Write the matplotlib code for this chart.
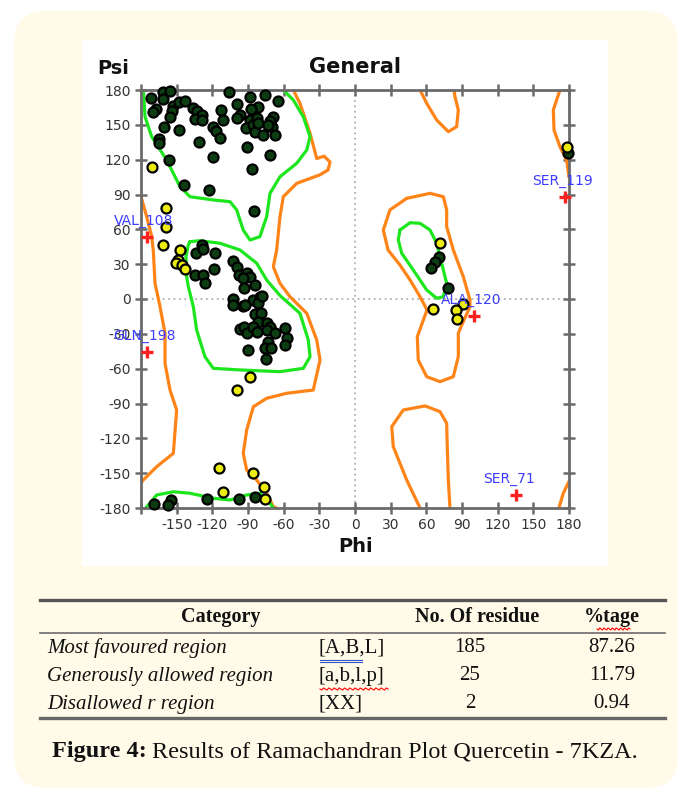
import matplotlib
matplotlib.use("Agg")
import matplotlib.pyplot as plt
from matplotlib.patches import FancyBboxPatch, Rectangle
import numpy as np

# ---------------- data ----------------
green_phi = [-171.9,-161.8,-161.8,-155.6,-167.4,-170.2,-153.4,-154.2,-147.7,-143.0,-155.6,-136.0,-133.2,-129.0,
             -134.6,-129.0,-112.7,-99.5,-96.7,-99.5,-105.7,-88.3,-75.7,-81.3,-87.5,-64.5,-88.3,-82.7,-91.7,-85.5,
             -84.1,-77.1,-81.3,-68.7,-71.5,-70.1,-72.9,-67.3,-160.7,-147.7,-165.1,-165.1,-119.2,-116.9,-113.5,
             -110.7,-130.9,-91.1,-156.2,-119.2,-71.5,-86.9,-143.5,-122.5,-84.9,
             -129.0,-133.7,-127.6,-117.7,-134.6,-128.1,-126.2,-118.6,-102.9,-99.5,-97.3,-91.1,-88.3,-93.9,-84.1,
             -93.3,-102.3,-93.9,-85.5,-79.9,-102.9,-92.5,-81.3,-78.5,-84.1,-79.3,-81.3,-96.7,-93.3,-90.5,-85.5,
             -82.7,-74.3,-71.5,-74.3,-67.3,-72.9,-75.7,-70.9,-58.9,-57.5,-58.9,-89.7,-74.8,
             -84.1,-97.3,-124.8,-155.0,-169.1,-157.0,
             70.9,67.3,63.6,78.5,179.5]
green_psi = [172.8,178.0,172.3,179.0,163.6,160.8,166.5,161.9,169.4,170.5,157.0,164.8,161.9,158.5,
             155.0,154.2,162.8,167.7,158.5,155.6,178.0,174.3,175.7,165.7,163.6,170.5,154.2,155.6,147.0,149.9,
             144.1,141.2,151.3,157.0,153.3,148.4,149.9,141.2,148.4,145.5,137.8,134.0,148.4,144.7,139.0,
             154.2,134.9,131.2,119.7,122.6,124.0,111.7,98.2,93.9,76.1,
             46.5,39.3,42.8,39.9,20.7,20.7,13.5,25.6,33.0,27.9,20.7,22.7,18.7,17.8,12.1,
             9.2,-0.3,-6.0,-0.9,1.4,-5.2,-5.2,-3.1,2.6,-12.9,-11.8,-19.5,-26.1,-23.8,-29.6,-24.4,
             -28.1,-20.9,-23.8,-26.7,-29.6,-36.7,-42.5,-42.5,-25.3,-33.9,-39.6,-43.9,-52.0,
             -170.2,-172.5,-172.5,-173.1,-176.5,-177.4,
             35.9,32.2,26.4,9.2,126.0]

yellow_phi = [-170.7,-159.0,-159.0,-161.2,-147.2,-148.6,-150.6,-145.8,-143.0,-88.3,-99.5,-114.1,-86.1,
              -110.7,-76.5,-75.7,71.5,65.9,91.1,84.9,85.5,178.5]
yellow_psi = [114.0,78.1,61.7,46.5,42.2,33.6,30.7,29.3,25.6,-67.5,-78.4,-145.8,-150.1,
              -165.9,-162.2,-172.5,48.0,-8.9,-4.3,-9.5,-17.5,131.0]

outlier_names = ["VAL_108", "GLN_198", "ALA_120", "SER_119", "SER_71"]
outlier_phi = [-175.2, -175.2, 100.1, 176.6, 135.4]
outlier_psi = [53.7, -45.3, -14.6, 88.1, -168.8]

# contour outlines (phi, psi vertices)
green_contours = [
    ([-178,-176.6,-171,-158.4,-147.2,-138.8,-119.2,-105.1,-99.5,-94,-88.3,-80,-74.3,-71.5,-63.1,-49,-40.6,-37.8,-43.5,-51.9,-60.3],
     [180,157,139.8,119.7,96.7,88.1,85.3,83.8,76.7,59.4,50.8,53.7,70.9,91,105.3,116.9,128.3,139.8,157,171.4,180]),
    ([-176,-166.8,-152.8,-138.8,-119.2,-105.1,-91.1,-79.9,-71.5,-68.7],
     [-180,-168.8,-166,-167.3,-171.6,-173.1,-168.8,-167.3,-175.9,-180]),
    ([-138.8,-130.4,-113.6,-96.7,-82.7,-74.3,-63.1,-46.3,-39.3,-37.8,-43.5,-63.1,-96.7,-119.2,-126.2,-133.2,-136,-140.2,-141.6,-142.2,-140.2,-138.8],
     [49.4,50.2,48,42.2,30.8,16.4,3,-12.3,-35.3,-49.7,-59.7,-62.6,-61.1,-59.7,-49.7,-26.7,-6.6,10.7,19.2,36.4,46.5,49.4]),
    ([37.8,46.3,54.7,63.1,68.7,72.9,77.1,74.3,68.7,60.3,49,39.3,36.4,37.8],
     [59.4,65.7,65.2,59.4,48,30.8,13.5,2,0.6,7.8,25,39.4,50.8,59.4]),
]
orange_contours = [
    ([-180,-175.2,-171,-169.7,-168.2,-164,-159.8,-159.8,-155.6,-150,-152.8,-166.8,-178.1,-180],
     [88.1,70.9,53.7,42.2,13.5,-6.6,-29.5,-55.4,-78.4,-95.6,-132.9,-144.4,-155.9,-158.5]),
    ([-51.9,-46.3,-37.8,-32.2,-26,-21,-22.7,-29.4,-49,-60.3,-63.1,-65.9,-68.7,-63.1,-54.7,-40.6,-32.2,-29.4,-35.1,-57.5,-74.3,-85.5,-91.1,-94,-91.1,-82.7,-74.3,-68.7,-66],
     [180,168.5,142.7,121,123,118,111.1,107,99.6,88.1,70.9,42.2,27.8,13.5,2,-12.3,-35.3,-52.5,-78.4,-81.2,-85.5,-92.8,-112.8,-132.9,-147.3,-155.9,-167.3,-178.9,-180]),
    ([54.7,60.3,68.7,78.5,85.5,86.9,84.1,83.3],
     [180,168.5,154.2,144.1,148.4,162.8,174.2,180]),
    ([54.7,43.5,32.2,30.9,40.6,58.9,71.5,77.1,77.6,78.5,79.9],
     [-180,-155.9,-127.2,-109.9,-95.6,-92.1,-97,-107,-127.2,-155.9,-180]),
    ([43.5,29.4,23.8,27.8,37.8,46.3,54.7,60.6,57.5,52.4,53.2,60.3,71.5,82.7,86.9,86.9,89.8,96.7,96.7,91.1,82.7,77.1,77.1,74.3,63.1,43.5],
     [86.7,76.7,59.4,42.2,29.3,16.4,2,-9.5,-18.1,-32.5,-52.5,-66.9,-71.2,-66.9,-49.7,-29.5,-22.4,-6.6,-0.9,19.2,42.2,62.3,76.7,88.1,91,86.7]),
    ([172.4,166.8,167.4,172.4,178,180],
     [180,162.8,145.5,131.2,119.7,105]),
    ([171.5,175.2,180],
     [-180,-167.3,-157]),
]

x_ticks = list(range(-180, 181, 30))
x_ticklabels = ["" if t == -180 else str(t) for t in x_ticks]
y_ticks = list(range(-180, 181, 30))

table_header = ["Category", "No. Of residue", "%tage"]
table_category = ["Most favoured region", "Generously allowed region", "Disallowed r region"]
table_code = ["[A,B,L]", "[a,b,l,p]", "[XX]"]
table_count = ["185", "25", "2"]
table_pct = ["87.26", "11.79", "0.94"]

# ---------------- figure ----------------
W, H = 692, 799
fig = plt.figure(figsize=(W/100, H/100), dpi=100)
fig.patch.set_facecolor("white")

bg = fig.add_axes([0, 0, 1, 1])
bg.set_xlim(0, W)
bg.set_ylim(H, 0)
bg.axis("off")
bg.add_patch(FancyBboxPatch((14, 11), W-28, H-22, boxstyle="round,pad=0,rounding_size=32",
                            fc="#fffbe8", ec="none"))
bg.add_patch(Rectangle((82, 40), 526, 526, fc="white", ec="none"))

serif = ["Liberation Serif", "DejaVu Serif"]
# table lines
bg.plot([40, 665], [600, 600], color="#555555", lw=2.4)
bg.plot([40, 665], [633, 633], color="#777777", lw=1.3)
bg.plot([40, 665], [718, 718], color="#666666", lw=2.4)
for txt, x in zip(table_header, [221, 477, 612]):
    bg.text(x, 617, txt, family=serif, weight="bold", fontsize=14.5, ha="center", va="center", color="#111111")
row_y = [648, 676, 704]
for i, y in enumerate(row_y):
    bg.text(47, y, table_category[i], family=serif, style="italic", fontsize=15, ha="left", va="center", color="#111111")
    bg.text(318, y, table_code[i], family=serif, fontsize=15, ha="left", va="center", color="#111111")
    bg.text(470, y, table_count[i], family=serif, fontsize=15, ha="center", va="center", color="#111111")
    bg.text(612, y, table_pct[i], family=serif, fontsize=15, ha="center", va="center", color="#111111")
# spell-check squiggles
sq_x = np.linspace(597, 630, 25)
bg.plot(sq_x, 629 + 1.2*np.sin(np.arange(25)*np.pi/1.5), color="red", lw=0.8)
sq_x2 = np.linspace(320, 388, 40)
bg.plot(sq_x2, 689 + 1.2*np.sin(np.arange(40)*np.pi/1.5), color="red", lw=0.8)
bg.plot([320, 362], [660, 660], color="#3355cc", lw=0.8)
bg.plot([320, 362], [662, 662], color="#3355cc", lw=0.8)

# caption
cap1 = bg.text(52, 752, "Figure 4:", family=serif, weight="bold", fontsize=17.5, ha="left", va="center", color="#111111")
fig.canvas.draw()
bb = cap1.get_window_extent(renderer=fig.canvas.get_renderer())
x_end = bb.x1
bg.text(x_end + 5, 752, "Results of Ramachandran Plot Quercetin - 7KZA.", family=serif, fontsize=17.5,
        ha="left", va="center", color="#111111")

# ---------------- Ramachandran axes ----------------
ax = fig.add_axes([141/W, 1-508/H, 428/W, 418/H])
ax.set_xlim(-180, 180)
ax.set_ylim(-180, 180)
ax.set_facecolor("white")

ax.axhline(0, color="#b0b0b0", lw=1.3, ls=(0, (1, 2)), zorder=1)
ax.axvline(0, color="#b0b0b0", lw=1.3, ls=(0, (1, 2)), zorder=1)

for px, py in orange_contours:
    ax.plot(px, py, color="#ff8418", lw=2.3, zorder=2, solid_capstyle="round")
for px, py in green_contours:
    ax.plot(px, py, color="#1ee61e", lw=2.3, zorder=2, solid_capstyle="round")

ax.scatter(green_phi, green_psi, s=52, c="#0d3d12", edgecolors="black", linewidths=1.6, zorder=3, clip_on=False)
ax.scatter(yellow_phi, yellow_psi, s=52, c="#ecec10", edgecolors="black", linewidths=1.6, zorder=3, clip_on=False)

ax.plot(outlier_phi, outlier_psi, ls="none", marker="+", ms=8, mew=2.4, color="#ff2020", zorder=4, clip_on=False)
for name, x, y in zip(outlier_names, outlier_phi, outlier_psi):
    ax.annotate(name, (x, y), xytext=(-33, 16), textcoords="offset pixels", color="#3d3dff",
                fontsize=10, ha="left", va="center", annotation_clip=False, zorder=5)

for s in ax.spines.values():
    s.set_color("#6a6a6a")
    s.set_linewidth(2)
ax.set_xticks(x_ticks)
ax.set_xticklabels(x_ticklabels)
ax.set_yticks(y_ticks)
ax.set_yticklabels([str(t) for t in y_ticks])
ax.tick_params(direction="inout", length=9, width=1.8, color="#6a6a6a", labelsize=10,
               labelcolor="#333333", top=True, right=True, labeltop=False, labelright=False, pad=3)

fig.text(113/W, 1-68/H, "Psi", fontsize=14, weight="bold", ha="center", va="center", color="#111111")
fig.text(355/W, 1-67/H, "General", fontsize=15, weight="bold", ha="center", va="center", color="#111111")
fig.text(356/W, 1-546/H, "Phi", fontsize=14, weight="bold", ha="center", va="center", color="#111111")

fig.savefig("out.png", dpi=100, facecolor="white")
